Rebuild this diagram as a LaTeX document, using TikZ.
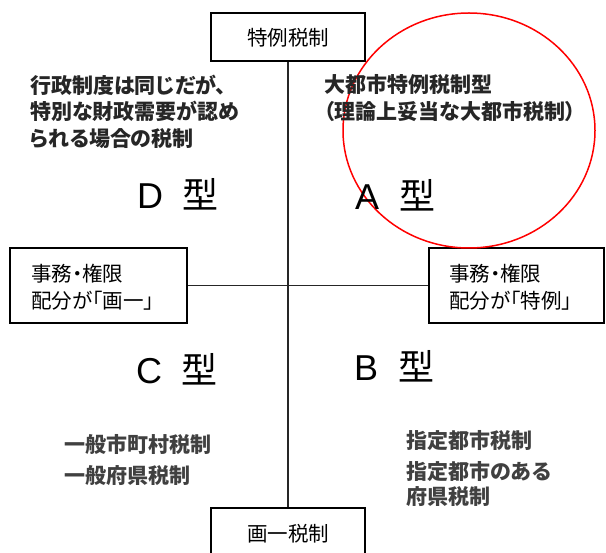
\documentclass[tikz,border=0pt]{standalone}
\usepackage{fontspec}
\newfontfamily\jp[RawFeature=+palt]{Noto Sans CJK JP}
\newfontfamily\lat{Liberation Sans}
\begin{document}
\begin{tikzpicture}[x=1pt,y=-1pt,
  frame/.style={draw=black, line width=1.9pt, inner sep=0pt},
  conn/.style={draw=black!85, line width=1.1pt},
  boldtxt/.style={anchor=base west, inner sep=0pt, text=black!85, font=\jp\bfseries\fontsize{21}{24}\selectfont},
  lowtxt/.style={anchor=base west, inner sep=0pt, text=black!75, font=\jp\bfseries\fontsize{21}{24}\selectfont},
  boxtxt/.style={anchor=base west, inner sep=0pt, font=\jp\fontsize{20.5}{24}\selectfont},
  typetxt/.style={anchor=base west, inner sep=0pt, font=\fontsize{36}{40}\selectfont}]
\useasboundingbox (0,0) rectangle (606,553);
\fill[white] (0,0) rectangle (606,553);

% boxes
\node[frame, minimum width=154pt, minimum height=48pt] (top) at (288,37) {};
\node[frame, minimum width=154pt, minimum height=60pt] (bot) at (288,538) {};
\node[frame, minimum width=177pt, minimum height=75pt] (left) at (98.5,285.5) {};
\node[frame, minimum width=175pt, minimum height=75pt] (right) at (516.5,285.5) {};

% connectors
\draw[conn] (top.south) -- (bot.north);
\draw[conn] (left.east) -- (right.west);

% box texts
\node[boxtxt, anchor=base] (toptxt) at (288,46) {特例税制};
\node[boxtxt, anchor=base] (bottxt) at (288,542) {画一税制};
\node[boxtxt] (l1) at (31,282) {事務・権限};
\node[boxtxt] (l2) at (31,309) {配分が「画一」};
\node[boxtxt] (r1) at (449,282) {事務・権限};
\node[boxtxt] (r2) at (449,309) {配分が「特例」};

% red circle
\draw[red, line width=1.5pt] (469,130.5) ellipse [x radius=126, y radius=117.5];

% upper texts
\node[boldtxt] (d1) at (30,94) {行政制度は同じだが、};
\node[boldtxt] (d2) at (30,120) {特別な財政需要が認め};
\node[boldtxt] (d3) at (30,147) {られる場合の税制};
\node[boldtxt] (a1) at (324,93) {大都市特例税制型};
\node[boldtxt] (a2) at (324,120) {（理論上妥当な大都市税制）};

% type labels
\node[typetxt] (dtype) at (137,209) {\lat D\hspace{0.55em}\jp 型};
\node[typetxt] (atype) at (355,210) {\lat A\hspace{0.55em}\jp 型};
\node[typetxt] (ctype) at (136,384) {\lat C\hspace{0.55em}\jp 型};
\node[typetxt] (btype) at (354,381) {\lat B\hspace{0.55em}\jp 型};

% lower texts
\node[lowtxt] (c1) at (64,453) {一般市町村税制};
\node[lowtxt] (c2) at (64,484) {一般府県税制};
\node[lowtxt] (b1) at (406,449) {指定都市税制};
\node[lowtxt] (b2) at (406,480) {指定都市のある};
\node[lowtxt] (b3) at (406,505) {府県税制};
\end{tikzpicture}
\end{document}
